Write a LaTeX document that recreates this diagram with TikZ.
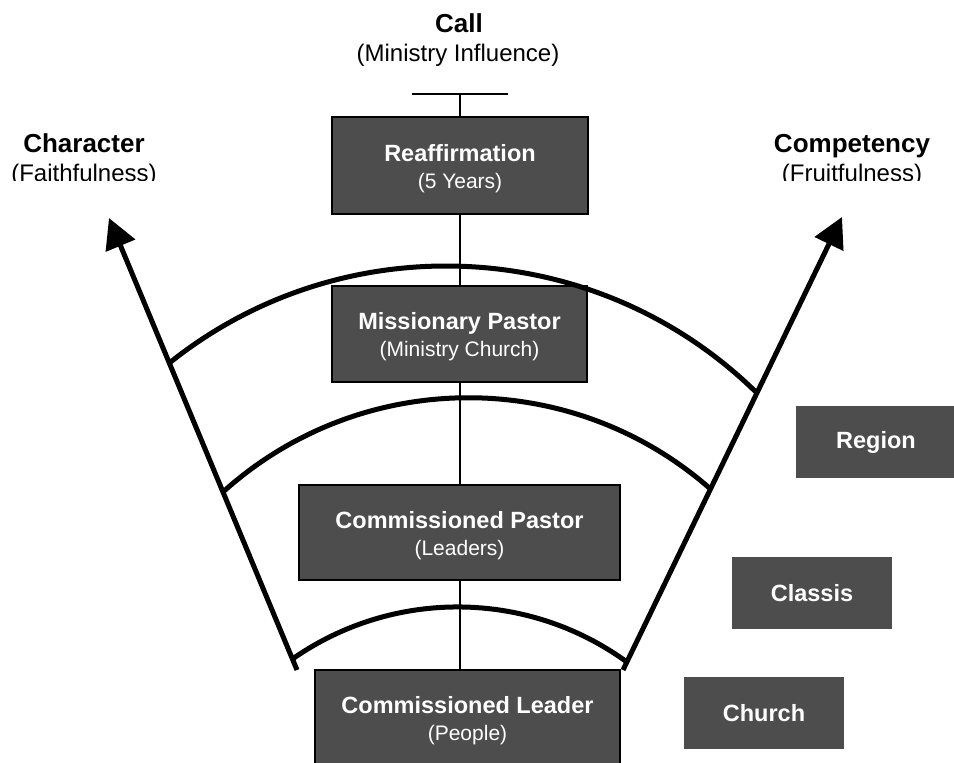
\documentclass[tikz,border=0pt]{standalone}
\usepackage{fontspec}
\setmainfont{Liberation Sans}
\usetikzlibrary{arrows.meta,calc,backgrounds}
\definecolor{boxgray}{RGB}{77,77,77}
\newcommand\boxtext[2]{{\fontsize{23.5}{27}\selectfont\bfseries\rule{0pt}{22.5pt}#1}\\{\fontsize{21}{27}\selectfont #2}}
\begin{document}
\begin{tikzpicture}[x=1pt,y=-1pt,
  stagebox/.style={draw=black,line width=2pt,fill=boxgray,text=white,align=center,inner sep=0pt,font=\fontsize{21}{27}\selectfont},
  levelbox/.style={fill=boxgray,text=white,inner sep=0pt,minimum width=160pt,minimum height=72pt,font=\fontsize{23.5}{28}\selectfont\bfseries},
  bigarrow/.style={line width=5pt,-{Triangle[length=30pt,width=31pt]}},
  band/.style={line width=5pt},
  toptitle/.style={anchor=base,inner sep=0pt,font=\fontsize{26}{30}\selectfont\bfseries},
  topsub/.style={anchor=base,inner sep=0pt,font=\fontsize{24}{28}\selectfont},
]
\useasboundingbox (0,0) rectangle (954,763);

% top labels
\node[toptitle] (call) at (459,32) {Call};
\node[topsub] (callsub) at (458,61) {(Ministry Influence)};
\node[toptitle] (char) at (84,152) {Character};
\node[toptitle] (comp) at (852,152) {Competency};
\begin{scope}
  \clip (0,0) rectangle (954,180);
  \node[topsub] (charsub) at (84,181.5) {(Faithfulness)};
  \node[topsub] (compsub) at (852,181.5) {(Fruitfulness)};
\end{scope}

% stage boxes
\node[stagebox,minimum width=256pt,minimum height=97pt] (reaff) at (460,165.5) {\boxtext{Reaffirmation}{(5 Years)}};
\node[stagebox,minimum width=255pt,minimum height=96pt] (miss) at (459.5,334) {\boxtext{Missionary Pastor}{(Ministry Church)}};
\node[stagebox,minimum width=321pt,minimum height=95pt] (cpas) at (459.5,532.5) {\boxtext{Commissioned Pastor}{(Leaders)}};
\node[stagebox,minimum width=305pt,minimum height=96pt] (clead) at (467.5,718) {\boxtext{Commissioned Leader}{(People)}};

% level boxes
\node[levelbox] (region) at (876,442) {Region};
\node[levelbox] (classis) at (812,593) {Classis};
\node[levelbox] (church) at (764,713) {Church};

% top bar and stem
\coordinate (barL) at (412,94);
\coordinate (barR) at (508,94);
\coordinate (stem) at (460,94);
\begin{scope}[on background layer]
  \draw[line width=1.5pt] (barL) -- (barR);
  \draw[line width=2pt] (stem) -- (stem |- clead.north);
\end{scope}

% big arrows
\coordinate (lb) at (297,670);
\coordinate (lt) at (109,218);
\coordinate (rb) at (623,670);
\coordinate (rt) at (842,217);
\draw[bigarrow] (lb) -- (lt);
\draw[bigarrow] (rb) -- (rt);

% bands
\coordinate (a1l) at ($(lb)!0.6792!(lt)$);
\coordinate (a1r) at ($(rb)!0.6115!(rt)$);
\coordinate (a2l) at ($(lb)!0.3938!(lt)$);
\coordinate (a2r) at ($(rb)!0.3996!(rt)$);
\coordinate (a3l) at ($(lb)!0.0243!(lt)$);
\coordinate (a3r) at ($(rb)!0.0177!(rt)$);
\draw[band] (a1l) to[bend left=41.6,looseness=0.974] (a1r);
\draw[band] (a2l) to[bend left=41.7,looseness=0.974] (a2r);
\draw[band] (a3l) to[bend left=35.5,looseness=0.939] (a3r);
\end{tikzpicture}
\end{document}
